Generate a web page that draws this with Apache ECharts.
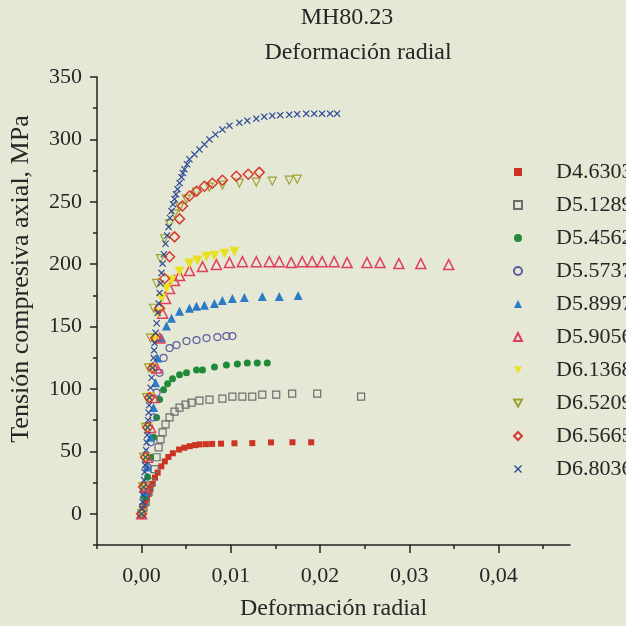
<!DOCTYPE html>
<html>
<head>
<meta charset="utf-8">
<script src="https://cdn.jsdelivr.net/npm/echarts@6/dist/echarts.min.js"></script>
<style>
html,body{margin:0;padding:0;background:#e5e8d5;}
#chart{width:626px;height:626px;}
</style>
</head>
<body>
<div id="chart"></div>
<script>
// ---- data (strain, stress MPa) ----
const seriesNames = ['D4.6303','D5.1289','D5.4562','D5.5737','D5.8997','D5.9056','D6.1368','D6.5209','D6.5665','D6.8036'];

const dD46303 = [[0,0],[0.0002,4],[0.0004,8],[0.0006,12],[0.0008,16],[0.001,20],[0.0012,24],[0.0015,29],[0.0018,33],[0.0022,38],[0.0026,42],[0.003,45.5],[0.0035,48.5],[0.0042,51.5],[0.0048,53],[0.0054,54.2],[0.006,55],[0.0065,55.6],[0.0072,55.8],[0.0079,56],[0.0089,56.2],[0.0104,56.5],[0.0124,56.6],[0.0145,57.2],[0.0169,57.3],[0.019,57.3]];

const dD51289 = [[0,0],[0.0002,5],[0.00045,9.5],[0.00078,17.5],[0.00112,25.5],[0.00145,35.8],[0.00168,45.3],[0.0019,53.3],[0.00212,59.7],[0.00235,65.2],[0.00268,71.6],[0.00313,77.2],[0.00369,81.9],[0.00425,85.1],[0.00492,87.5],[0.00559,89.1],[0.00648,90.7],[0.0076,91.5],[0.00905,92.3],[0.01017,93.9],[0.01129,93.9],[0.0124,93.9],[0.01352,95.5],[0.01508,95.5],[0.01687,96.3],[0.01967,96.3],[0.02459,93.9]];

const dD54562 = [[0,0],[0.00034,13.5],[0.00067,29.4],[0.001,45.3],[0.00134,61.3],[0.00168,77.2],[0.00201,91.5],[0.00246,99.4],[0.00291,104.2],[0.00346,108.2],[0.00425,111.4],[0.00503,113],[0.00615,115.3],[0.00682,115.3],[0.00816,117.7],[0.0095,119.3],[0.01073,120.1],[0.01184,120.9],[0.01296,120.9],[0.01408,120.9]];

const dD55737 = [[0,0],[0.00034,17.5],[0.00067,37.4],[0.001,57.3],[0.00134,77.2],[0.00168,97.1],[0.00201,113],[0.00246,124.9],[0.00313,132.8],[0.00391,135.2],[0.00503,138.4],[0.00615,139.2],[0.00727,140.8],[0.00849,141.6],[0.0095,142.4],[0.01017,142.4]];

const dD58997 = [[0,0],[0.00034,17.5],[0.00067,37.4],[0.001,61.3],[0.00134,85.1],[0.00156,105],[0.00179,124.9],[0.00224,140.8],[0.00279,150.4],[0.00335,156.7],[0.00425,162.3],[0.00536,164.7],[0.00615,166.3],[0.00704,167.1],[0.00816,168.6],[0.00905,171],[0.01017,172.6],[0.01151,173.4],[0.01352,174.2],[0.01542,174.2],[0.01754,175]];

const dD59056 = [[0,0],[0.00034,21.5],[0.00067,45.3],[0.001,69.2],[0.00134,93.1],[0.00168,116.9],[0.00201,140.8],[0.00235,160.7],[0.00268,172.6],[0.00313,180.6],[0.00369,186.9],[0.00425,190.9],[0.00536,194.9],[0.00682,198.1],[0.00838,199.7],[0.00984,201.3],[0.01129,202],[0.01285,202],[0.0143,202],[0.01542,202],[0.01676,201.3],[0.01799,202],[0.01911,202],[0.02022,202],[0.02157,202],[0.02302,201.3],[0.02525,201.3],[0.02671,201.3],[0.02883,200.5],[0.03128,200.5],[0.03441,199.7]];

const dD61368 = [[0,0],[0.00022,21.5],[0.00045,45.3],[0.00067,69.2],[0.00089,93.1],[0.00112,116.9],[0.00145,140.8],[0.00179,160.7],[0.00224,172.6],[0.00279,180.6],[0.00335,186.9],[0.00425,194.1],[0.00536,200.5],[0.00626,202.9],[0.00727,206],[0.00816,206.8],[0.00928,208.4],[0.01039,210]];

const dD65209 = [[0,0],[0.00011,21.5],[0.00022,45.3],[0.00045,69.2],[0.00056,93.1],[0.00078,116.9],[0.001,140.8],[0.00134,164.7],[0.00168,184.6],[0.00212,204.4],[0.00257,220.4],[0.00313,232.3],[0.00369,240.2],[0.00425,245.8],[0.00503,252.2],[0.00615,257.7],[0.0076,261.7],[0.00905,263.3],[0.01095,264.9],[0.01285,265.7],[0.01464,266.5],[0.01654,267.3],[0.01743,268.1]];

const dD65665 = [[0,0],[0.00022,21.5],[0.00045,45.3],[0.00067,69.2],[0.00089,93.1],[0.00123,116.9],[0.00156,140.8],[0.00201,164.7],[0.00257,188.5],[0.00313,206],[0.00369,221.9],[0.00425,236.3],[0.00458,246.6],[0.00536,254.6],[0.00615,258.5],[0.00704,262.5],[0.00793,264.9],[0.00905,267.3],[0.01061,270.5],[0.01195,272.1],[0.01318,273.6]];

const dD68036 = [[0,0],[0.00005,4],[0.00011,9.5],[0.00016,15],[0.00022,21.5],[0.00028,27],[0.00034,33.4],[0.0004,39],[0.00045,45.3],[0.0005,51],[0.00056,57.3],[0.00062,63],[0.00067,69.2],[0.00073,75],[0.00078,81.1],[0.00084,87],[0.00089,93.1],[0.001,101],[0.00112,109],[0.00123,117],[0.00134,124.9],[0.0014,131],[0.00145,136.8],[0.00157,145],[0.00168,152.7],[0.00179,161],[0.0019,168.6],[0.00201,177],[0.00212,184.6],[0.00223,193],[0.00235,200.5],[0.0025,208],[0.00268,216.4],[0.00285,223],[0.00302,229.9],[0.00318,237],[0.00335,242.6],[0.00352,248],[0.00369,252.2],[0.00385,256],[0.00402,260.1],[0.00425,265],[0.00447,269.7],[0.00463,273],[0.0048,276],[0.0051,280],[0.00536,284],[0.00592,288],[0.00648,292],[0.00704,296],[0.0076,300],[0.00827,303.9],[0.00905,307.9],[0.00984,311],[0.01095,313.4],[0.01184,315],[0.01285,316.6],[0.01374,318.2],[0.01464,319],[0.01553,319.4],[0.01654,319.8],[0.01743,320.2],[0.01844,320.6],[0.01933,320.6],[0.02022,320.6],[0.02112,320.6],[0.0219,320.6]];

const seriesData = [dD46303,dD51289,dD54562,dD55737,dD58997,dD59056,dD61368,dD65209,dD65665,dD68036];

// tick values
const xMajorTicks = [0, 0.01, 0.02, 0.03, 0.04];
const xMinorTicks = [-0.005, 0.005, 0.015, 0.025, 0.035, 0.045];
const yMajorTicks = [0, 50, 100, 150, 200, 250, 300, 350];
const yMinorTicks = [-25, 25, 75, 125, 175, 225, 275, 325];

// ---- styles ----
const DOWN_TRI = 'path://M0,0L10,0L5,9Z';
const CROSS = 'path://M0,1.2L1.2,0L5,3.8L8.8,0L10,1.2L6.2,5L10,8.8L8.8,10L5,6.2L1.2,10L0,8.8L3.8,5Z';
const styles = [
  {symbol:'rect', size:6, fill:'#cc3322'},
  {symbol:'rect', size:7, stroke:'#6e6e6e', bw:1.2},
  {symbol:'circle', size:7, fill:'#1e8a3a'},
  {symbol:'circle', size:7, stroke:'#5c5ca2', bw:1.2},
  {symbol:'triangle', size:9, fill:'#2b7cc4'},
  {symbol:'triangle', size:10, stroke:'#e0405a', bw:1.5},
  {symbol:DOWN_TRI, size:10, fill:'#e8e020'},
  {symbol:DOWN_TRI, size:8, stroke:'#a0a032', bw:1.2},
  {symbol:'diamond', size:10, stroke:'#d83a30', bw:1.5},
  {symbol:CROSS, size:7, fill:'#2c4a98'}
];

const FONT = "'Liberation Serif','Times New Roman',serif";
const TXT = '#262626';

const chart = echarts.init(document.getElementById('chart'), null, {renderer:'canvas'});

const series = seriesNames.map((name, i) => {
  const s = styles[i];
  return {
    name: name,
    type: 'scatter',
    xAxisIndex: 0, yAxisIndex: 0,
    data: seriesData[i],
    symbol: s.symbol,
    symbolSize: s.size,
    itemStyle: s.fill ? {color: s.fill, borderWidth: 0, opacity: 1}
                      : {color: 'transparent', borderColor: s.stroke, borderWidth: s.bw, opacity: 1},
    emphasis: {disabled: true},
    z: 2 + i
  };
});

const option = {
  backgroundColor: '#e5e8d5',
  animation: false,
  grid: {left: 97, right: 56, top: 77, bottom: 78, containLabel: false},
  xAxis: [
    {
      type: 'value', min: -0.005, max: 0.048, position: 'bottom',
      axisLine: {onZero: false, lineStyle: {color: '#222', width: 1.5}},
      axisTick: {customValues: xMinorTicks, length: 4, lineStyle: {color: '#222', width: 1.5}},
      axisLabel: {show: false},
      splitLine: {show: false}
    },
    {
      type: 'value', min: -0.005, max: 0.048, position: 'bottom',
      axisLine: {show: false, onZero: false},
      axisTick: {customValues: xMajorTicks, length: 8, lineStyle: {color: '#222', width: 1.5}},
      axisLabel: {customValues: xMajorTicks, margin: 20, fontSize: 22, fontFamily: FONT, color: TXT,
        formatter: v => v.toFixed(2).replace('.', ',')},
      splitLine: {show: false},
      name: 'Deformación radial', nameLocation: 'middle', nameGap: 52,
      nameTextStyle: {fontSize: 24, fontFamily: FONT, color: TXT}
    }
  ],
  yAxis: [
    {
      type: 'value', min: -25, max: 350, position: 'left',
      axisLine: {onZero: false, lineStyle: {color: '#222', width: 1.5}},
      axisTick: {customValues: yMinorTicks, length: 4, lineStyle: {color: '#222', width: 1.5}},
      axisLabel: {show: false},
      splitLine: {show: false}
    },
    {
      type: 'value', min: -25, max: 350, position: 'left',
      axisLine: {show: false, onZero: false},
      axisTick: {customValues: yMajorTicks, length: 7, lineStyle: {color: '#222', width: 1.5}},
      axisLabel: {customValues: yMajorTicks, margin: 15, fontSize: 22, fontFamily: FONT, color: TXT},
      splitLine: {show: false}
    }
  ],
  legend: {
    orient: 'vertical',
    left: 508, top: 156,
    itemWidth: 8, itemHeight: 8, itemGap: 11,
    textStyle: {fontSize: 22, lineHeight: 22, fontFamily: FONT, color: TXT, padding: [0, 0, 0, 29]},
    data: seriesNames,
    selectedMode: false
  },
  graphic: [
    {type: 'text', x: 347, y: 18, style: {text: 'MH80.23', font: "24px " + FONT, fill: TXT, textAlign: 'center', textVerticalAlign: 'middle'}},
    {type: 'text', x: 358, y: 53, style: {text: 'Deformación radial', font: "24px " + FONT, fill: TXT, textAlign: 'center', textVerticalAlign: 'middle'}},
    {type: 'text', x: 21, y: 279, rotation: Math.PI / 2, style: {text: 'Tensión compresiva axial, MPa', font: "26px " + FONT, fill: TXT, textAlign: 'center', textVerticalAlign: 'middle'}}
  ],
  series: series
};
chart.setOption(option);
</script>
</body>
</html>
